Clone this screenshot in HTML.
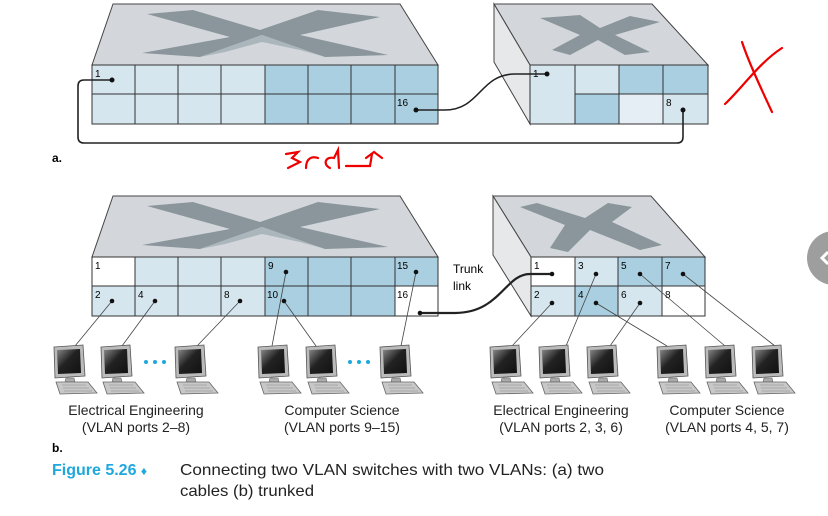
<!DOCTYPE html>
<html><head><meta charset="utf-8"><style>
html,body{margin:0;padding:0;background:#fff;}
svg{display:block;}
text{font-family:"Liberation Sans",sans-serif;}
</style></head><body>
<svg width="828" height="516" viewBox="0 0 828 516" xmlns="http://www.w3.org/2000/svg">
<defs>
<linearGradient id="scr" x1="0" y1="0" x2="1" y2="1">
<stop offset="0" stop-color="#8a8a8a"/><stop offset="0.45" stop-color="#222"/><stop offset="1" stop-color="#111"/></linearGradient>
<g id="pc">
<path d="M2,2 L31,0 L33,31 L3,33 Z" fill="#bbb" stroke="#555" stroke-width="0.8"/>
<path d="M5,5 L28,4 L29,28 L6,29 Z" fill="url(#scr)"/>
<path d="M14,33 L22,33 L23,37 L13,37 Z" fill="#aaa" stroke="#666" stroke-width="0.6"/>
<path d="M4,37 L36,37 L45,48 L8,49 Z" fill="#c8c8c8" stroke="#666" stroke-width="0.8"/>
<path d="M10,40 L34,40 M11,43 L37,43 M12,46 L40,46" stroke="#888" stroke-width="0.6"/>
</g>
</defs>

<!-- ===== a. left switch ===== -->
<polygon points="113,4 400,4 438,65 92,65" fill="#d3d7db" stroke="#444" stroke-width="1"/>
<polygon points="147,14 193,10 260,30 318,10 380,17 300,35 388,55 325,57 262,35 200,57 142,53 230,37" fill="#8a969c"/>
<polygon points="200,57 262,35 325,57 300,50 262,42 225,52" fill="#aab6bc"/>
<g stroke="#333" stroke-width="1">
<rect x="92" y="65" width="173" height="59" fill="#d6e6ef"/>
<rect x="265" y="65" width="173" height="59" fill="#a9cfe0"/>
<line x1="92" y1="94" x2="438" y2="94"/>
<line x1="135" y1="65" x2="135" y2="124"/><line x1="178" y1="65" x2="178" y2="124"/><line x1="221" y1="65" x2="221" y2="124"/><line x1="265" y1="65" x2="265" y2="124"/><line x1="308" y1="65" x2="308" y2="124"/><line x1="351" y1="65" x2="351" y2="124"/><line x1="395" y1="65" x2="395" y2="124"/>
</g>
<text x="95" y="77" font-size="10">1</text>
<text x="397" y="106" font-size="10">16</text>

<!-- a. right switch -->
<polygon points="494,4 652,4 708,65 530,65" fill="#d3d7db" stroke="#444"/>
<polygon points="494,4 530,65 530,124 494,62" fill="#e6e8ea" stroke="#444"/>
<polygon points="540,18 580,15 600,28 630,16 660,22 615,35 650,52 625,55 598,40 570,55 552,50 580,35" fill="#8a969c"/>
<g stroke="#333" stroke-width="1">
<rect x="530" y="65" width="178" height="59" fill="#d6e6ef"/>
<rect x="619" y="65" width="89" height="29" fill="#a9cfe0"/>
<rect x="575" y="94" width="44" height="30" fill="#a9cfe0"/>
<rect x="619" y="94" width="44" height="30" fill="#e4eef4"/>
<rect x="663" y="94" width="45" height="30" fill="#d6e6ef"/>
<line x1="575" y1="65" x2="575" y2="124"/><line x1="663" y1="65" x2="663" y2="124"/>
</g>
<text x="533" y="77" font-size="10">1</text>
<text x="666" y="106" font-size="10">8</text>

<!-- a. cables -->
<g fill="none" stroke="#222" stroke-width="1.6">
<path d="M416,110 L445,110 C480,110 480,74 515,74 L547,74"/>
<path d="M112,80 L84,80 Q78,80 78,86 L78,137 Q78,143 84,143 L677,143 Q683,143 683,137 L683,110"/>
</g>
<g fill="#111"><circle cx="112" cy="80" r="2.5"/><circle cx="416" cy="110" r="2.5"/><circle cx="547" cy="74" r="2.5"/><circle cx="683" cy="110" r="2.5"/></g>
<text x="52" y="162" font-size="12" font-weight="bold">a.</text>

<!-- red annotations -->
<g fill="none" stroke="#e00" stroke-width="2.2" stroke-linecap="round">
<path d="M742,42 C748,60 758,82 772,112"/>
<path d="M782,48 C760,62 742,88 725,104"/>
<path d="M286,154 L298,152 L292,158 L300,162 L288,168"/>
<path d="M306,168 C306,158 312,156 318,158"/>
<path d="M330,168 C322,164 326,156 334,158 L338,150 L339,168"/>
<path d="M346,166 L370,166 L372,154 M366,158 L374,152 L382,158"/>
</g>

<!-- ===== b. left switch ===== -->
<polygon points="113,196 400,196 438,257 92,257" fill="#d3d7db" stroke="#444"/>
<polygon points="147,206 193,202 260,222 318,202 380,209 300,227 388,247 325,249 262,227 200,249 142,245 230,229" fill="#8a969c"/>
<polygon points="200,249 262,227 325,249 300,242 262,234 225,244" fill="#aab6bc"/>
<g stroke="#333" stroke-width="1">
<rect x="92" y="257" width="173" height="59" fill="#d6e6ef"/>
<rect x="265" y="257" width="173" height="59" fill="#a9cfe0"/>
<rect x="92" y="257" width="43" height="29" fill="#fff"/>
<rect x="395" y="286" width="43" height="30" fill="#fff"/>
<line x1="92" y1="286" x2="438" y2="286"/>
<line x1="135" y1="257" x2="135" y2="316"/><line x1="178" y1="257" x2="178" y2="316"/><line x1="221" y1="257" x2="221" y2="316"/><line x1="265" y1="257" x2="265" y2="316"/><line x1="308" y1="257" x2="308" y2="316"/><line x1="351" y1="257" x2="351" y2="316"/><line x1="395" y1="257" x2="395" y2="316"/>
</g>
<g font-size="10">
<text x="95" y="269">1</text><text x="268" y="269">9</text><text x="397" y="269">15</text>
<text x="95" y="298">2</text><text x="138" y="298">4</text><text x="224" y="298">8</text><text x="267" y="298">10</text><text x="397" y="298">16</text>
</g>

<!-- b. right switch -->
<polygon points="493,196 651,196 705,257 531,257" fill="#d3d7db" stroke="#444"/>
<polygon points="493,196 531,257 531,316 493,255" fill="#e6e8ea" stroke="#444"/>
<polygon points="520,207 537,203 585,218 608,203 632,207 612,222 662,245 640,250 590,230 568,252 550,248 565,225" fill="#8a969c"/>
<g stroke="#333" stroke-width="1">
<rect x="531" y="257" width="44" height="29" fill="#fff"/>
<rect x="575" y="257" width="43" height="29" fill="#d6e6ef"/>
<rect x="618" y="257" width="44" height="29" fill="#a9cfe0"/>
<rect x="662" y="257" width="43" height="29" fill="#a9cfe0"/>
<rect x="531" y="286" width="44" height="30" fill="#d6e6ef"/>
<rect x="575" y="286" width="43" height="30" fill="#a9cfe0"/>
<rect x="618" y="286" width="44" height="30" fill="#d6e6ef"/>
<rect x="662" y="286" width="43" height="30" fill="#fff"/>
</g>
<g font-size="10">
<text x="534" y="269">1</text><text x="578" y="269">3</text><text x="621" y="269">5</text><text x="665" y="269">7</text>
<text x="534" y="298">2</text><text x="578" y="298">4</text><text x="621" y="298">6</text><text x="665" y="298">8</text>
</g>

<!-- trunk -->
<path d="M420,313 L455,313 C500,313 505,274 530,274 L552,274" fill="none" stroke="#222" stroke-width="2.2"/>
<text x="453" y="273" font-size="12">Trunk</text>
<text x="453" y="290" font-size="12">link</text>

<!-- wires -->
<g stroke="#444" stroke-width="0.8" fill="none">
<line x1="112" y1="301" x2="75" y2="346"/>
<line x1="155" y1="301" x2="122" y2="346"/>
<line x1="240" y1="301" x2="197" y2="346"/>
<line x1="286" y1="272" x2="272" y2="346"/>
<line x1="284" y1="301" x2="316" y2="346"/>
<line x1="416" y1="272" x2="401" y2="346"/>
<line x1="552" y1="303" x2="512" y2="346"/>
<line x1="596" y1="274" x2="566" y2="346"/>
<line x1="596" y1="303" x2="667" y2="346"/>
<line x1="640" y1="303" x2="610" y2="346"/>
<line x1="640" y1="274" x2="725" y2="346"/>
<line x1="683" y1="274" x2="775" y2="346"/>
</g>
<g fill="#111">
<circle cx="286" cy="272" r="2.3"/><circle cx="416" cy="272" r="2.3"/><circle cx="112" cy="301" r="2.3"/><circle cx="155" cy="301" r="2.3"/><circle cx="240" cy="301" r="2.3"/><circle cx="284" cy="301" r="2.3"/><circle cx="420" cy="313" r="2.3"/>
<circle cx="552" cy="274" r="2.3"/><circle cx="596" cy="274" r="2.3"/><circle cx="640" cy="274" r="2.3"/><circle cx="683" cy="274" r="2.3"/><circle cx="552" cy="303" r="2.3"/><circle cx="596" cy="303" r="2.3"/><circle cx="640" cy="303" r="2.3"/>
</g>

<!-- computers -->
<use href="#pc" x="52" y="345"/><use href="#pc" x="99" y="345"/><use href="#pc" x="173" y="345"/>
<use href="#pc" x="256" y="345"/><use href="#pc" x="304" y="345"/><use href="#pc" x="378" y="345"/>
<use href="#pc" x="488" y="345"/><use href="#pc" x="537" y="345"/><use href="#pc" x="585" y="345"/>
<use href="#pc" x="655" y="345"/><use href="#pc" x="703" y="345"/><use href="#pc" x="750" y="345"/>
<g fill="#1fa8dc"><circle cx="146" cy="362" r="2"/><circle cx="155" cy="362" r="2"/><circle cx="164" cy="362" r="2"/>
<circle cx="350" cy="362" r="2"/><circle cx="359" cy="362" r="2"/><circle cx="368" cy="362" r="2"/></g>

<g font-size="14" fill="#222" text-anchor="middle">
<text x="136" y="415">Electrical Engineering</text><text x="136" y="432">(VLAN ports 2–8)</text>
<text x="342" y="415">Computer Science</text><text x="342" y="432">(VLAN ports 9–15)</text>
<text x="561" y="415">Electrical Engineering</text><text x="561" y="432">(VLAN ports 2, 3, 6)</text>
<text x="727" y="415">Computer Science</text><text x="727" y="432">(VLAN ports 4, 5, 7)</text>
</g>
<text x="52" y="452" font-size="12" font-weight="bold">b.</text>
<text x="52" y="475" font-size="16" font-weight="bold" fill="#1fa8dc">Figure 5.26 <tspan font-size="12">♦</tspan></text>
<text x="180" y="475" font-size="16" fill="#222" textLength="424" lengthAdjust="spacingAndGlyphs">Connecting two VLAN switches with two VLANs: (a) two</text>
<text x="180" y="496" font-size="16" fill="#222" textLength="134" lengthAdjust="spacingAndGlyphs">cables (b) trunked</text>

<!-- gray circle at right edge -->
<circle cx="834" cy="258" r="27" fill="#9e9e9e"/>
<path d="M828,252 L822,258 L828,264" fill="none" stroke="#fff" stroke-width="3"/>
</svg>
</body></html>
